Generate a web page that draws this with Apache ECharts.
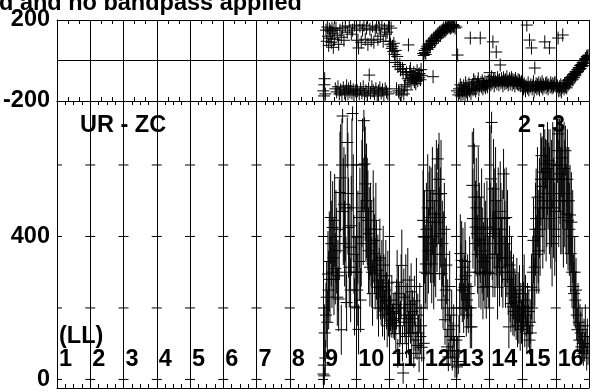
<!DOCTYPE html>
<html><head><meta charset="utf-8">
<script src="https://cdn.jsdelivr.net/npm/echarts@6/dist/echarts.min.js"></script>
<style>html,body{margin:0;padding:0;background:#fff;overflow:hidden}#c{width:606px;height:392px}</style>
</head><body><div id="c"></div>
<script>
// ---- text ----
const titleText = 'd and no bandpass applied';
const baselineText = 'UR - ZC';
const pairText = '2 - 3';
const polText = '(LL)';
const panelLabels = ['1','2','3','4','5','6','7','8','9','10','11','12','13','14','15','16'];
// ---- axis ticks ----
const phaseTickLabels = [-200, 200];
const ampTickLabels = [0, 400];
const ampTicks = [0, 200, 400, 600];
// ---- data: [time within panel (0-1), amplitude, amplitude error, phase] ----
const p9 = [
[0.01,15,30,-150],[0.03,40,40,-175],[0.04,10,25,-120],[0.05,130,80,-90],[0.07,60,50,-165],
[0.09,180,90,150],[0.11,230,100,95],[0.13,160,90,165],[0.15,295,120,120],[0.17,250,110,75],
[0.19,330,140,155],[0.21,280,120,110],[0.23,453,130,145],[0.25,380,120,90],[0.27,300,100,160],
[0.29,425,130,135],[0.31,340,110,65],[0.33,280,100,150],[0.35,445,130,105],[0.37,310,100,-140],
[0.39,400,130,160],[0.41,360,120,-155],[0.43,230,80,125],[0.45,290,100,-130],[0.47,225,90,80],
[0.49,420,140,-165],[0.51,523,170,150],[0.53,564,150,-145],[0.55,139,70,115],[0.57,600,130,-170],
[0.59,737,20,160],[0.61,470,150,-135],[0.63,490,160,100],[0.65,380,120,-160],[0.67,480,150,170],
[0.69,300,100,-150],[0.71,215,80,-125],[0.73,663,70,140],[0.75,520,170,-165],[0.77,425,140,-140],
[0.79,314,110,165],[0.81,370,120,-155],[0.83,250,90,-130],[0.85,430,140,130],[0.87,600,130,-160],
[0.89,744,20,150],[0.91,480,150,-145],[0.93,350,110,-170],[0.95,203,80,175],[0.97,300,100,-150]];
const p10 = [
[0.01,300,110,160],[0.03,250,100,-150],[0.05,398,130,100],[0.07,140,70,62],[0.09,330,110,-165],
[0.11,453,140,170],[0.13,222,90,-140],[0.15,380,120,90],[0.17,520,150,-160],[0.19,600,130,150],
[0.21,470,150,-130],[0.23,724,30,175],[0.25,603,130,-170],[0.27,547,160,105],[0.29,480,150,-150],
[0.31,500,160,160],[0.33,470,150,-175],[0.35,445,140,80],[0.37,360,120,-140],[0.39,408,130,-72],
[0.41,314,110,155],[0.43,420,130,-160],[0.45,380,120,100],[0.47,300,100,-130],[0.49,240,90,170],
[0.51,445,140,-150],[0.53,389,120,90],[0.55,352,110,-165],[0.57,296,100,150],[0.59,420,130,-140],
[0.61,333,110,165],[0.63,258,90,-175],[0.65,305,100,105],[0.67,200,80,-150],[0.69,278,90,160],
[0.71,340,110,-135],[0.73,258,90,120],[0.75,231,80,-160],[0.77,290,100,175],[0.79,200,80,-145],
[0.81,320,110,95],[0.83,260,90,-170],[0.85,180,70,155],[0.87,250,90,-140],[0.89,290,100,130],
[0.91,220,80,-155],[0.93,150,60,140],[0.95,270,90,-165],[0.97,200,80,170]];
const p11 = [
[0.01,200,60,95],[0.03,185,50,80],[0.05,157,40,160],[0.07,222,70,60],[0.09,170,40,70],
[0.11,165,50,45],[0.13,190,50,85],[0.15,150,40,30],[0.17,185,60,-10],[0.19,128,50,50],
[0.21,210,70,-140],[0.23,272,90,20],[0.25,73,40,-30],[0.27,240,80,-150],[0.29,200,70,-160],
[0.31,150,60,-20],[0.33,160,60,-45],[0.35,260,90,-170],[0.37,319,100,-150],[0.39,100,50,-40],
[0.41,18,30,-55],[0.43,230,80,-165],[0.45,180,60,-130],[0.47,170,70,-120],[0.49,260,90,-70],
[0.51,120,60,-60],[0.53,200,70,-145],[0.55,278,90,-90],[0.57,129,60,77],[0.59,180,60,-100],
[0.61,210,80,-55],[0.63,160,60,-40],[0.65,245,80,-110],[0.67,130,50,-75],[0.69,190,60,-85],
[0.71,170,60,-95],[0.73,73,40,-60],[0.75,220,70,-105],[0.77,150,70,-80],[0.79,110,50,-115],
[0.81,260,80,-90],[0.83,95,40,-50],[0.85,180,60,-100],[0.87,130,50,-70],[0.89,60,40,-85],
[0.91,200,70,-65],[0.93,120,50,-95],[0.95,150,60,-45],[0.97,90,40,-75]];
const p12 = [
[0.01,445,140,35],[0.03,101,50,25],[0.05,398,130,50],[0.07,300,100,40],[0.09,323,110,30],
[0.11,420,130,60],[0.13,296,100,70],[0.15,480,150,55],[0.17,360,120,80],[0.19,440,140,65],
[0.21,528,70,85],[0.23,400,130,75],[0.25,453,140,95],[0.27,323,110,100],[0.29,500,150,85],
[0.31,400,130,-80],[0.33,296,100,110],[0.35,380,120,100],[0.37,463,140,95],[0.39,350,120,120],
[0.41,520,150,110],[0.43,440,140,125],[0.45,617,30,130],[0.47,519,140,115],[0.49,560,130,135],
[0.51,408,130,140],[0.53,453,140,125],[0.55,520,150,145],[0.57,296,100,135],[0.59,380,120,150],
[0.61,222,80,140],[0.63,350,120,160],[0.65,420,130,150],[0.67,167,70,145],[0.69,250,90,165],
[0.71,320,110,155],[0.73,91,50,170],[0.75,200,80,160],[0.77,63,40,175],[0.79,140,60,165],
[0.81,260,100,170],[0.83,120,60,160],[0.85,80,40,175],[0.87,180,70,165],[0.89,60,35,170],
[0.91,110,50,178],[0.93,150,60,168],[0.95,80,40,172],[0.97,40,35,160]];
const p13 = [
[0.01,110,50,165],[0.03,35,30,-150],[0.05,80,40,27],[0.07,50,35,-170],[0.09,120,60,-140],
[0.11,200,70,-160],[0.13,352,110,-120],[0.15,280,100,-175],[0.17,333,110,-135],[0.19,250,90,-150],
[0.21,314,110,-165],[0.23,200,70,-125],[0.25,258,90,-145],[0.27,330,110,-170],[0.29,290,100,-110],
[0.31,180,60,-155],[0.33,222,80,-130],[0.35,260,90,-160],[0.37,200,70,-140],[0.39,240,90,-115],
[0.41,300,100,-150],[0.43,147,60,111],[0.45,200,70,-165],[0.47,147,60,-130],[0.49,543,150,-120],
[0.51,450,140,-145],[0.53,653,50,-95],[0.55,510,150,-140],[0.57,380,120,-105],[0.59,426,130,-150],
[0.61,480,140,-120],[0.63,408,120,-135],[0.65,350,110,-110],[0.67,510,140,-90],[0.69,300,100,-145],
[0.71,420,130,-125],[0.73,390,120,111],[0.75,296,100,-110],[0.77,450,140,-130],[0.79,360,120,-100],
[0.81,258,90,-140],[0.83,330,110,-115],[0.85,420,130,-125],[0.87,300,100,-105],[0.89,380,120,-135],
[0.91,260,90,-120],[0.93,426,130,-110],[0.95,340,110,-130],[0.97,300,100,-100]];
const p14 = [
[0.01,296,100,-60],[0.03,420,130,-100],[0.05,561,150,-120],[0.07,719,30,-80],[0.09,408,130,-110],
[0.11,350,120,92],[0.13,533,140,-95],[0.15,450,140,-125],[0.17,350,120,-90],[0.19,500,150,-105],
[0.21,420,130,42],[0.23,380,120,-115],[0.25,258,90,-85],[0.27,453,140,-100],[0.29,380,120,-120],
[0.31,314,110,-95],[0.33,470,140,-22],[0.35,420,130,-110],[0.37,340,110,-90],[0.39,400,130,-105],
[0.41,300,100,-125],[0.43,575,70,-85],[0.45,450,140,-100],[0.47,380,120,-115],[0.49,300,100,-95],
[0.51,453,140,-110],[0.53,340,110,-80],[0.55,400,130,-105],[0.57,280,100,-120],[0.59,147,60,-100],
[0.61,320,110,-90],[0.63,260,100,-115],[0.65,212,80,-100],[0.67,300,100,-85],[0.69,240,90,-120],
[0.71,203,80,-95],[0.73,260,90,-110],[0.75,190,70,-100],[0.77,230,80,-125],[0.79,215,80,-90],
[0.81,180,70,-110],[0.83,250,90,-105],[0.85,150,60,-115],[0.87,220,80,-95],[0.89,170,70,-120],
[0.91,240,80,-100],[0.93,140,60,-110],[0.95,200,70,-125],[0.97,160,60,-105]];
const p15 = [
[0.01,240,80,-120],[0.03,203,70,-140],[0.05,260,90,-115],[0.07,150,60,-130],[0.09,222,70,-150],
[0.11,180,60,-125],[0.13,128,50,175],[0.15,200,70,-135],[0.17,150,60,-110],[0.19,190,60,-145],
[0.21,110,40,101],[0.23,160,60,-130],[0.25,130,50,-120],[0.27,258,90,62],[0.29,200,70,-140],
[0.31,300,100,-125],[0.33,389,120,-105],[0.35,250,90,-150],[0.37,314,110,-37],[0.39,420,130,-130],
[0.41,450,140,-115],[0.43,350,110,-140],[0.45,510,140,-120],[0.47,400,130,-135],[0.49,360,120,-110],
[0.51,480,140,-145],[0.53,420,130,-125],[0.55,560,130,-115],[0.57,626,50,-130],[0.59,540,140,-105],
[0.61,450,140,-140],[0.63,580,130,-120],[0.65,500,150,-130],[0.67,560,140,92],[0.69,603,70,-115],
[0.71,480,150,-135],[0.73,520,150,-110],[0.75,590,130,-125],[0.77,560,140,-140],[0.79,612,50,-120],
[0.81,500,150,62],[0.83,560,140,-130],[0.85,450,140,-110],[0.87,520,150,-125],[0.89,380,120,-135],
[0.91,600,120,-115],[0.93,480,140,-130],[0.95,560,140,-120],[0.97,420,130,-110]];
const p16 = [
[0.01,470,140,-110],[0.03,560,140,-140],[0.05,640,90,-125],[0.07,687,50,111],[0.09,520,150,-150],
[0.11,600,130,-130],[0.13,575,140,-145],[0.15,500,150,-120],[0.17,620,110,-155],[0.19,500,150,-135],
[0.21,560,140,126],[0.23,453,140,-125],[0.25,590,130,-140],[0.27,520,150,-115],[0.29,640,70,-130],
[0.31,500,150,-110],[0.33,463,140,-135],[0.35,560,140,-100],[0.37,445,140,-120],[0.39,500,150,-95],
[0.41,420,130,-110],[0.43,460,140,-85],[0.45,352,110,-100],[0.47,440,140,-90],[0.49,300,100,-80],
[0.51,400,130,-95],[0.53,260,90,-70],[0.55,240,90,-85],[0.57,300,100,-65],[0.59,222,80,-75],
[0.61,250,90,-55],[0.63,180,70,-60],[0.65,139,60,-45],[0.67,200,70,-55],[0.69,160,60,-35],
[0.71,110,50,-45],[0.73,150,60,-25],[0.75,130,60,-40],[0.77,91,40,-20],[0.79,140,60,-30],
[0.81,100,40,-10],[0.83,73,35,-25],[0.85,120,50,0],[0.87,90,40,-15],[0.89,150,60,10],
[0.91,100,40,5],[0.93,60,35,20],[0.95,120,50,15],[0.97,80,40,25]];
const panelData = [[9,p9],[10,p10],[11,p11],[12,p12],[13,p13],[14,p14],[15,p15],[16,p16]];

// ---- build series data ----
const ampData = [], phaseData = [];
panelData.forEach(([k, rows]) => {
  rows.forEach(r => {
    ampData.push([k - 1 + r[0], r[1], r[2]]);
    phaseData.push([k - 1 + r[0], r[3]]);
  });
});
const nPanels = panelLabels.length;
const crossTickData = [];
for (let b = 0; b <= nPanels; b++) ampTicks.forEach(v => crossTickData.push([b, v]));
const labelData = panelLabels.map((t, i) => [i, 0, t]);

const FAMILY = '"Liberation Sans", Arial, Helvetica, sans-serif';
const FONT = 'bold 23.5px ' + FAMILY;
const LS = {stroke: '#000', lineWidth: 1};

function xAxisDef(grid, pos, minorSplit, splitLine) {
  return {
    type: 'value', gridIndex: grid, position: pos, min: 0, max: nPanels, interval: 1,
    axisLine: {show: true, onZero: false, lineStyle: {color: '#000', width: 1}},
    axisTick: {show: true, inside: true, length: 4, lineStyle: {color: '#000'}},
    minorTick: {show: true, splitNumber: minorSplit, length: 4, lineStyle: {color: '#000'}},
    axisLabel: {show: false},
    splitLine: {show: splitLine, lineStyle: {color: '#000', width: 1}}
  };
}

const chart = echarts.init(document.getElementById('c'), null, {renderer: 'canvas'});
const option = {
  animation: false,
  backgroundColor: '#fff',
  grid: [
    {left: 57, top: 20, width: 532, height: 81},
    {left: 57, top: 101, width: 532, height: 287}
  ],
  xAxis: [
    xAxisDef(0, 'top', 3, true),
    xAxisDef(0, 'bottom', 3, false),
    xAxisDef(1, 'top', 4, false),
    xAxisDef(1, 'bottom', 4, true)
  ],
  yAxis: [
    {type: 'value', gridIndex: 0, min: -200, max: 200, interval: 200,
     axisLine: {show: true, lineStyle: {color: '#000'}},
     axisTick: {show: false},
     axisLabel: {color: '#000', fontWeight: 'bold', fontSize: 23.5, fontFamily: FAMILY, margin: 7,
       customValues: phaseTickLabels},
     splitLine: {show: true, lineStyle: {color: '#000', width: 1}}},
    {type: 'value', gridIndex: 1, min: -24, max: 779,
     axisLine: {show: true, lineStyle: {color: '#000'}},
     axisTick: {show: false},
     axisLabel: {color: '#000', fontWeight: 'bold', fontSize: 23.5, fontFamily: FAMILY, margin: 7,
       customValues: ampTickLabels},
     splitLine: {show: false}}
  ],
  series: [
    {
      type: 'custom', xAxisIndex: 0, yAxisIndex: 0, clip: true, silent: true,
      data: phaseData,
      renderItem: (params, api) => {
        const c = api.coord([api.value(0), api.value(1)]);
        return {type: 'group', children: [
          {type: 'line', shape: {x1: c[0], y1: c[1] - 6.5, x2: c[0], y2: c[1] + 6.5}, style: LS},
          {type: 'line', shape: {x1: c[0] - 6, y1: c[1], x2: c[0] + 6, y2: c[1]}, style: LS}
        ]};
      }
    },
    {
      type: 'custom', xAxisIndex: 3, yAxisIndex: 1, clip: true, silent: true,
      data: ampData,
      renderItem: (params, api) => {
        const x = api.value(0), v = api.value(1), e = api.value(2);
        const c = api.coord([x, v]);
        const t = api.coord([x, v + e])[1];
        const b = api.coord([x, v - e])[1];
        return {type: 'group', children: [
          {type: 'line', shape: {x1: c[0], y1: Math.min(t, c[1] - 5), x2: c[0], y2: Math.max(b, c[1] + 5)}, style: LS},
          {type: 'line', shape: {x1: c[0] - 6, y1: c[1], x2: c[0] + 6, y2: c[1]}, style: LS}
        ]};
      }
    },
    {
      type: 'custom', xAxisIndex: 3, yAxisIndex: 1, clip: false, silent: true,
      data: crossTickData,
      renderItem: (params, api) => {
        const b = api.value(0);
        const c = api.coord([b, api.value(1)]);
        const x1 = b === 0 ? c[0] : c[0] - 5;
        const x2 = b === nPanels ? c[0] : c[0] + 5;
        return {type: 'line', shape: {x1: x1, y1: c[1], x2: x2, y2: c[1]}, style: LS};
      }
    },
    {
      type: 'custom', xAxisIndex: 3, yAxisIndex: 1, clip: false, silent: true,
      data: labelData,
      renderItem: (params, api) => {
        const c = api.coord([api.value(0), 0]);
        return {type: 'text', style: {text: labelData[params.dataIndex][2], x: c[0] + 2, y: c[1] - 20,
          font: FONT, fill: '#000', align: 'left', verticalAlign: 'middle'}};
      }
    }
  ],
  graphic: [
    {type: 'text', left: -1, top: -8, style: {text: titleText, font: FONT, fill: '#000'}},
    {type: 'text', x: 80, y: 126, style: {text: baselineText, font: FONT, fill: '#000', verticalAlign: 'middle'}},
    {type: 'text', x: 518, y: 126, style: {text: pairText, font: FONT, fill: '#000', verticalAlign: 'middle'}},
    {type: 'text', x: 59, y: 337, style: {text: polText, font: FONT, fill: '#000', verticalAlign: 'middle'}}
  ]
};
chart.setOption(option);
</script>
</body></html>
